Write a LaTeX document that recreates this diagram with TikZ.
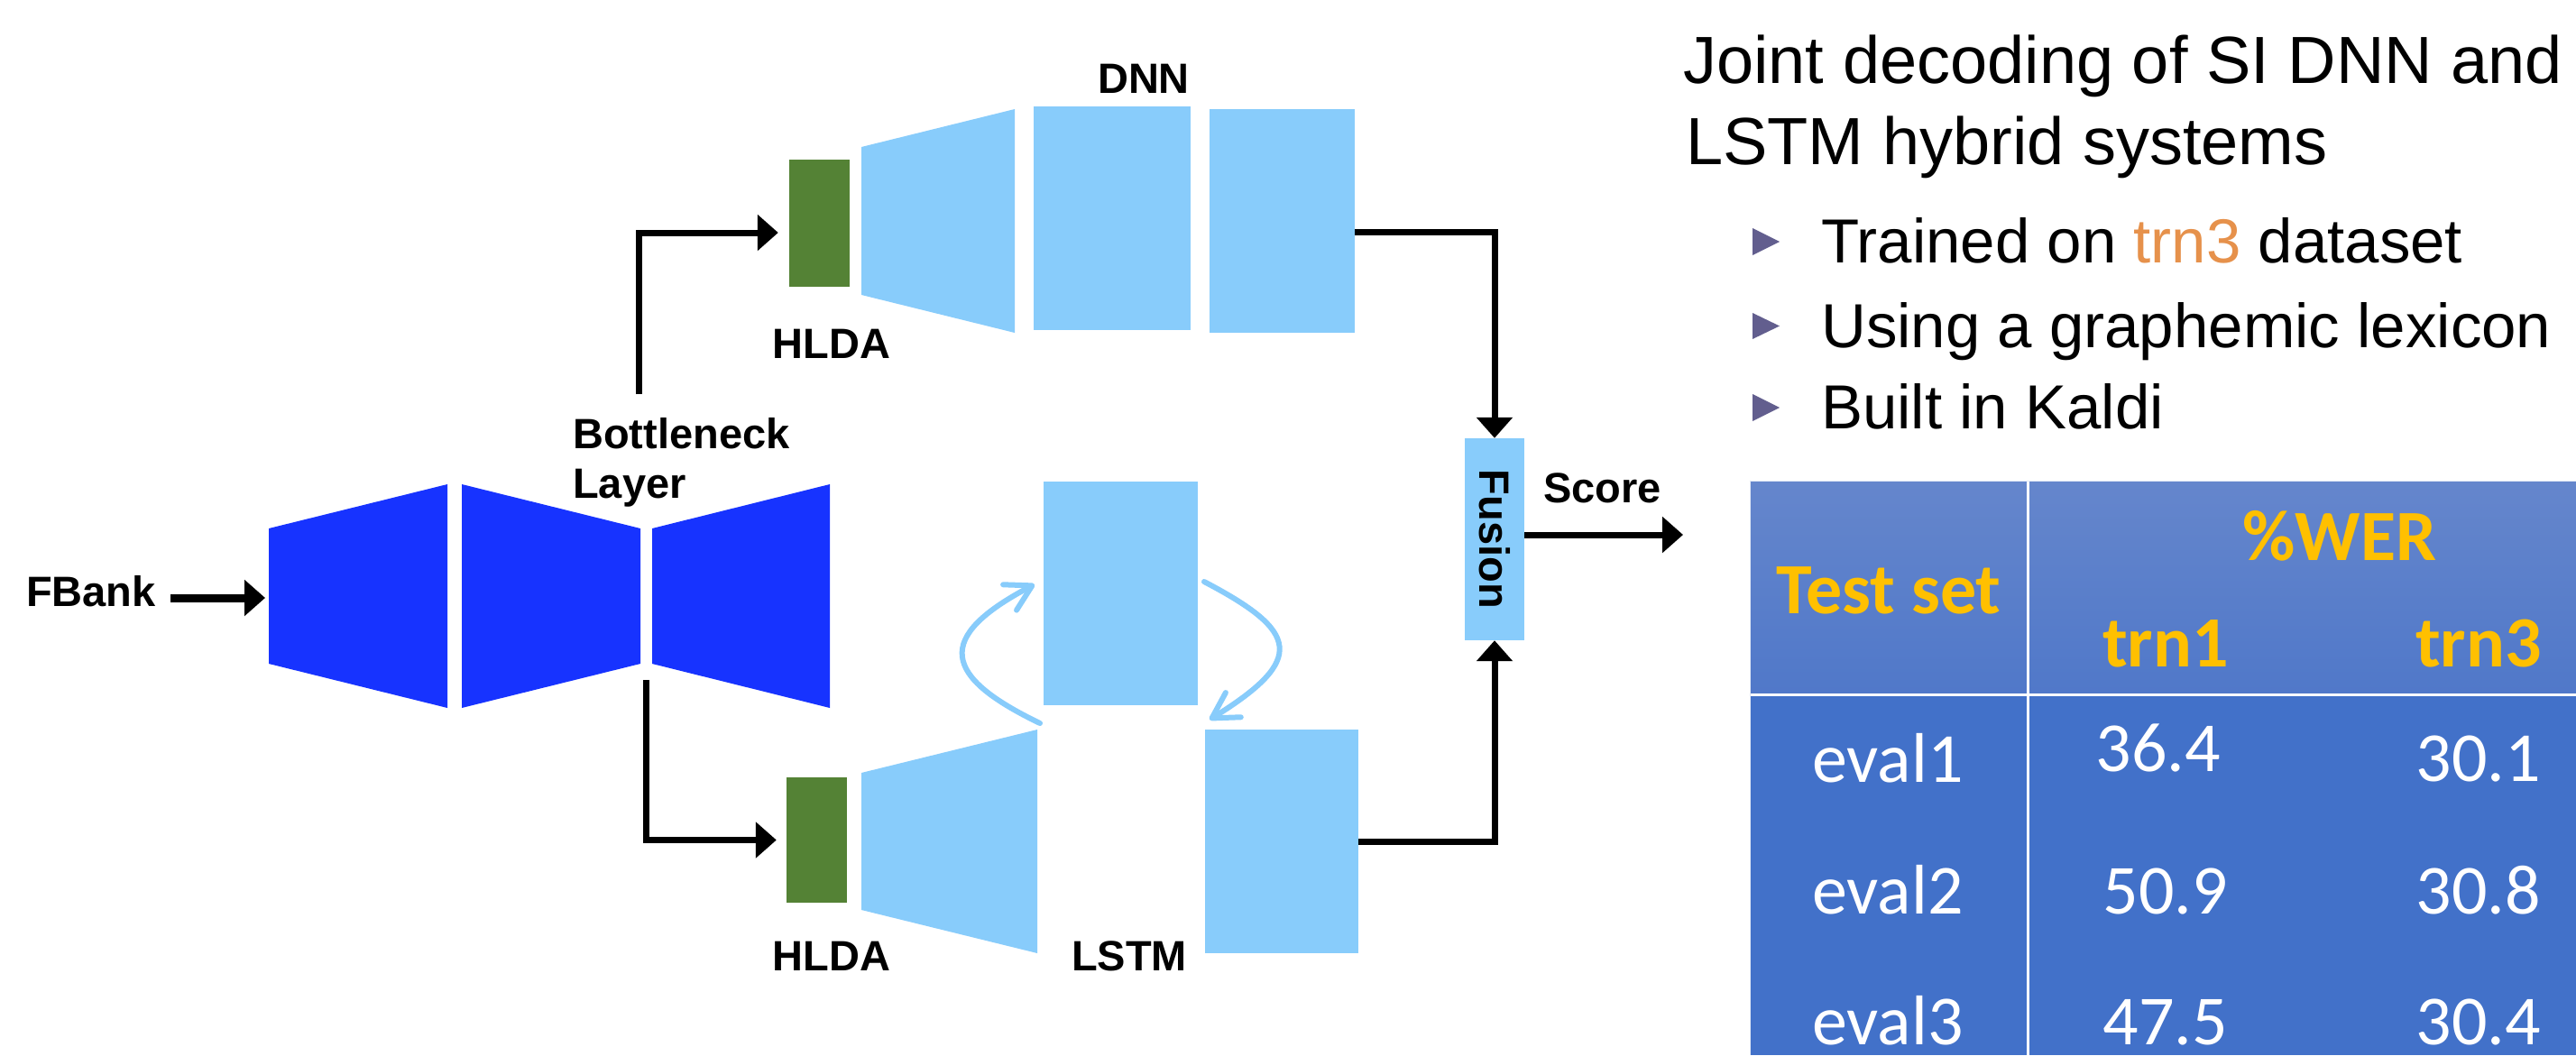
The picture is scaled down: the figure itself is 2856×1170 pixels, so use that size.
\documentclass[tikz,border=0pt]{standalone}
\usepackage{fontspec}
\setmainfont{Liberation Sans}
\newfontfamily\calib{Carlito}
\usetikzlibrary{arrows.meta}
\definecolor{encblue}{RGB}{23,51,255}
\definecolor{lblue}{RGB}{136,204,251}
\definecolor{hgreen}{RGB}{84,130,53}
\definecolor{trnorange}{RGB}{230,145,75}
\definecolor{tyellow}{RGB}{255,192,0}
\definecolor{headtop}{RGB}{101,134,204}
\definecolor{headbot}{RGB}{80,120,201}
\definecolor{bodyblue}{RGB}{66,113,201}
\definecolor{bulletc}{RGB}{98,94,142}
\begin{document}
\begin{tikzpicture}[x=1pt,y=-1pt,
  lbl/.style={inner sep=0pt, anchor=base, font=\fontsize{47}{50}\selectfont\bfseries},
  blk/.style={inner sep=0pt, draw=none, fill=lblue},
  hlda/.style={inner sep=0pt, draw=none, fill=hgreen, minimum width=67pt},
  arr/.style={line width=7pt, -{Triangle[length=23pt,width=39pt]}},
  curv/.style={draw=lblue, line width=6pt, line cap=round, line join=round,
    -{Straight Barb[length=28pt,width=32pt,line width=6pt,round]}},
  title/.style={inner sep=0pt, anchor=base west, font=\fontsize{74}{80}\selectfont},
  btxt/.style={inner sep=0pt, anchor=base west, font=\fontsize{69}{75}\selectfont},
  thead/.style={inner sep=0pt, anchor=base, text=tyellow, font=\calib\fontsize{80}{86}\selectfont\bfseries},
  tcell/.style={inner sep=0pt, anchor=base, text=white, font=\calib\fontsize{78}{84}\selectfont}]
\useasboundingbox (0,0) rectangle (2856,1170);
\fill[white] (0,0) rectangle (2856,1170);

% encoder
\fill[encblue] (298,586) -- (496,537) -- (496,785) -- (298,736) -- cycle;
\fill[encblue] (512,537) -- (710,586) -- (710,736) -- (512,785) -- cycle;
\fill[encblue] (723,586) -- (920,537) -- (920,785) -- (723,736) -- cycle;
\coordinate (encin) at (294,663);
\coordinate (bnup) at (708,437);
\coordinate (bndown) at (716,754);

\node[lbl, anchor=base west] (fbank) at (29,672) {FBank};
\node[lbl, anchor=base west] (bneck) at (635,497) {Bottleneck};
\node[lbl, anchor=base west] (layer) at (635,552) {Layer};

% DNN branch
\node[hlda, minimum height=141pt] (hlda1) at (908.5,247.5) {};
\fill[lblue] (955,163) -- (1125,121) -- (1125,369) -- (955,327) -- cycle;
\node[blk, minimum width=174pt, minimum height=248pt] (drect1) at (1233,242) {};
\node[blk, minimum width=161pt, minimum height=248pt] (drect2) at (1421.5,245) {};
\node[lbl] (dnnlbl) at (1268,103) {DNN};
\node[lbl] (hlda1lbl) at (922,397) {HLDA};

% LSTM branch
\node[hlda, minimum height=139pt] (hlda2) at (905.5,931.5) {};
\fill[lblue] (955,857) -- (1150,809) -- (1150,1057) -- (955,1009) -- cycle;
\node[blk, minimum width=171pt, minimum height=248pt] (lrect1) at (1242.5,658) {};
\node[blk, minimum width=170pt, minimum height=248pt] (lrect2) at (1421,933) {};
\node[lbl] (hlda2lbl) at (922,1076) {HLDA};
\node[lbl] (lstmlbl) at (1252,1076) {LSTM};

% fusion
\node[blk, minimum width=66pt, minimum height=224pt,
  font=\fontsize{47}{50}\selectfont\bfseries] (fusion) at (1657,598) {\rotatebox{-90}{Fusion}};
\node[lbl, anchor=base west] (score) at (1711,557) {Score};
\coordinate (scoreend) at (1866,593);

% connectors
\draw[arr, line width=9pt] ([xshift=16pt,yshift=9pt]fbank.base east) -- (encin);
\draw[arr] (bnup) |- ([shift={(-12pt,-10.5pt)}]hlda1.west);
\draw[arr] (bndown) |- ([xshift=-11pt]hlda2.west);
\draw[arr] ([yshift=-12pt]drect2.east) -| (fusion.north);
\draw[arr] (lrect2.east) -| (fusion.south);
\draw[arr] ([yshift=5pt]fusion.east) -- (scoreend);

% recurrent arrows
\coordinate (lc0) at (1153,802);
\coordinate (lc1) at (1147,648);
\coordinate (rc0) at (1335,645);
\coordinate (rc1) at (1341,798);
\draw[curv] (lc0) .. controls (1045,750) and (1035,707) .. (lc1);
\draw[curv] (rc0) .. controls (1440,700) and (1449,731) .. (rc1);

% right text
\node[title] (t1) at (1866,92) {Joint decoding of SI DNN and};
\node[title] (t2) at (1869,182) {LSTM hybrid systems};
\fill[bulletc] (1943,253) -- (1973,268) -- (1943,283) -- cycle;
\fill[bulletc] (1943,347) -- (1973,361.5) -- (1943,376) -- cycle;
\fill[bulletc] (1943,437) -- (1973,452) -- (1943,467) -- cycle;
\node[btxt] (b1) at (2019,291) {Trained on \textcolor{trnorange}{trn3} dataset};
\node[btxt] (b2) at (2019,385) {Using a graphemic lexicon};
\node[btxt] (b3) at (2019,475) {Built in Kaldi};

% table
\shade[top color=headtop, bottom color=headbot] (1940,533) rectangle (2856,770);
\fill[bodyblue] (1940,770) rectangle (2856,1170);
\draw[white, line width=3pt] (2248,533) -- (2248,1170);
\draw[white, line width=3pt] (1940,770) -- (2856,770);
\draw[white!80!headtop, line width=1.5pt] (1940.5,1170) -- (1940.5,533.5) -- (2856,533.5);
\node[thead] (th1) at (2094,680) {Test set};
\node[thead] (th2) at (2594,621) {\%WER};
\node[thead] (th3) at (2401,739) {trn1};
\node[thead] (th4) at (2748,739) {trn3};
\node[tcell] (r1a) at (2093,867) {eval1};
\node[tcell] (r1b) at (2393,855) {36.4};
\node[tcell] (r1c) at (2748,866) {30.1};
\node[tcell] (r2a) at (2093,1013) {eval2};
\node[tcell] (r2b) at (2401,1013) {50.9};
\node[tcell] (r2c) at (2748,1013) {30.8};
\node[tcell] (r3a) at (2093,1158) {eval3};
\node[tcell] (r3b) at (2401,1158) {47.5};
\node[tcell] (r3c) at (2748,1158) {30.4};
\end{tikzpicture}
\end{document}
